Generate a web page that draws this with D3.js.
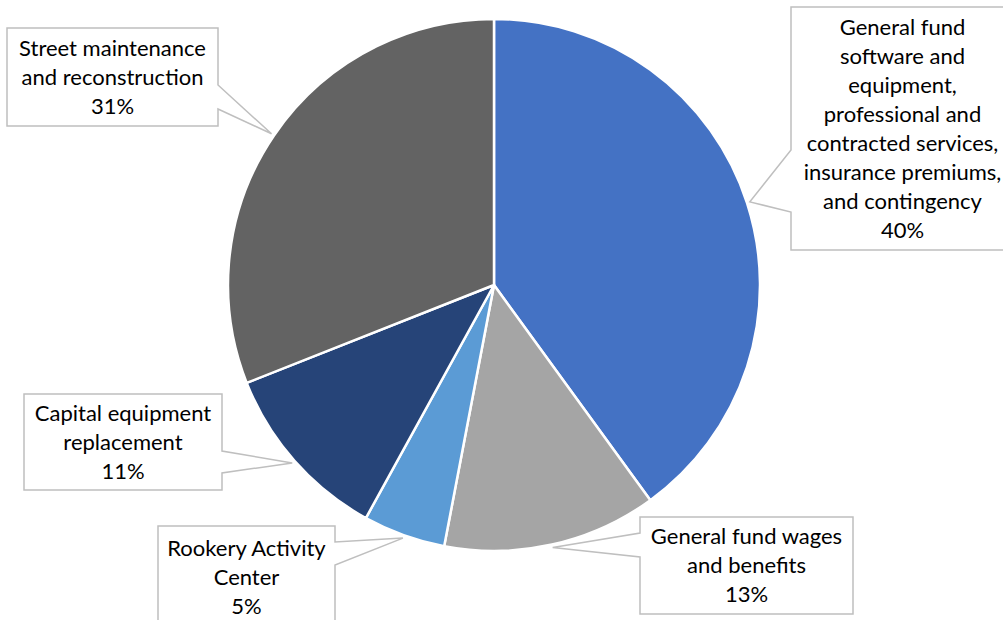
<!DOCTYPE html>
<html>
<head>
<meta charset="utf-8">
<script src="https://cdn.jsdelivr.net/npm/d3@7"></script>
<style>
  html, body { margin: 0; padding: 0; background: #fff; overflow: hidden; }
</style>
</head>
<body>
<script>
const width = 1003;
const height = 620;

// data, clockwise from 12 o'clock
const categories = [
    "General fund software and equipment, professional and contracted services, insurance premiums, and contingency",
    "General fund wages and benefits",
    "Rookery Activity Center",
    "Capital equipment replacement",
    "Street maintenance and reconstruction"
];
const values = [40, 13, 5, 11, 31];
const labelLines = [
    ["General fund", "software and", "equipment,", "professional and", "contracted services,", "insurance premiums,", "and contingency"],
    ["General fund wages", "and benefits"],
    ["Rookery Activity", "Center"],
    ["Capital equipment", "replacement"],
    ["Street maintenance", "and reconstruction"]
];
const colors = ["#4472C4", "#A5A5A5", "#5B9BD5", "#264478", "#636363"];

// callout boxes (layout): side = which edge the pointer leaves from, p0/p1 = pointer base
const boxes = [
    {x0: 791, y0: 7, x1: 1014, y1: 250, side: "left", p0: 150, p1: 212},
    {x0: 640, y0: 517, x1: 853, y1: 614, side: "left", p0: 533, p1: 557},
    {x0: 158, y0: 526, x1: 335, y1: 628, side: "right", p0: 542, p1: 565},
    {x0: 24, y0: 394, x1: 222, y1: 490, side: "right", p0: 451, p1: 473},
    {x0: 7, y0: 28, x1: 218, y1: 126, side: "right", p0: 85, p1: 109}
];

const cx = 494, cy = 285, radius = 266;
const lineHeight = 29;

const svg = d3.select("body")
    .append("svg")
    .attr("width", width)
    .attr("height", height)
    .style("font-family", "Lato, 'Open Sans', sans-serif");

const pie = d3.pie().sort(null).value(function(d){ return d; });
const arcs = pie(values);
const arc = d3.arc().innerRadius(0).outerRadius(radius);

const g = svg.append("g").attr("transform", "translate(" + cx + "," + cy + ")");

g.selectAll("path")
    .data(arcs)
    .join("path")
    .attr("d", arc)
    .attr("fill", function(d, i){ return colors[i]; })
    .attr("stroke", "#fff")
    .attr("stroke-width", 2.5)
    .attr("stroke-linejoin", "round");

// callouts
arcs.forEach(function(d, i){
    const a = (d.startAngle + d.endAngle) / 2;
    const tx = cx + Math.sin(a) * (radius + 3);
    const ty = cy - Math.cos(a) * (radius + 3);
    const b = boxes[i];
    let p;
    if (b.side === "right") {
        p = "M" + b.x0 + "," + b.y0 + "H" + b.x1 + "V" + b.p0 + "L" + tx + "," + ty +
            "L" + b.x1 + "," + b.p1 + "V" + b.y1 + "H" + b.x0 + "Z";
    } else {
        p = "M" + b.x1 + "," + b.y0 + "H" + b.x0 + "V" + b.p0 + "L" + tx + "," + ty +
            "L" + b.x0 + "," + b.p1 + "V" + b.y1 + "H" + b.x1 + "Z";
    }
    svg.append("path")
        .attr("d", p)
        .attr("fill", "#fff")
        .attr("stroke", "#BFBFBF")
        .attr("stroke-width", 1.5);

    const lines = labelLines[i].concat([d.data + "%"]);
    const mx = (b.x0 + b.x1) / 2;
    const my = (b.y0 + b.y1) / 2;
    const top = my - (lines.length - 1) / 2 * lineHeight;
    const text = svg.append("text")
        .attr("text-anchor", "middle")
        .attr("font-size", 22)
        .attr("fill", "#000");
    lines.forEach(function(l, k){
        text.append("tspan")
            .attr("x", mx)
            .attr("y", top + k * lineHeight)
            .attr("dy", "0.35em")
            .text(l);
    });
});
</script>
</body>
</html>
